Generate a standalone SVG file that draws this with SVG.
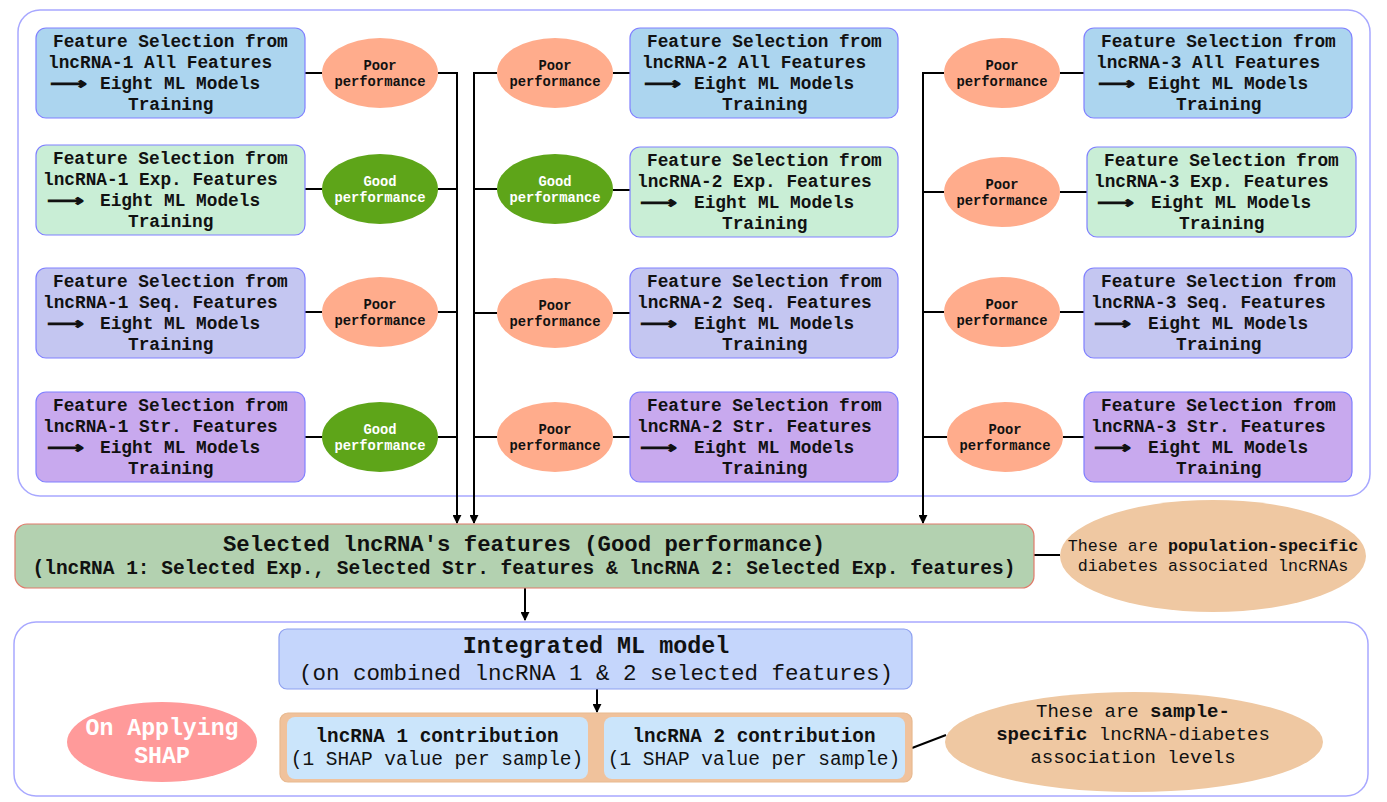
<svg xmlns="http://www.w3.org/2000/svg" width="1387" height="802" viewBox="0 0 1387 802">
<style>
.cont{fill:#fff;stroke:#a8a8ff;stroke-width:1.5}
.box{stroke:#8080ff;stroke-width:1.2}
.all{fill:#acd5ef}.exp{fill:#c9eed6}.seq{fill:#c4c6f1}.str{fill:#c8a9ee}
.bt{font-family:"Liberation Mono",monospace;font-weight:bold;font-size:17.8px;fill:#111}
.arr{font-family:"DejaVu Sans",sans-serif;font-weight:bold;font-size:16px;fill:#111;stroke:#111;stroke-width:0.9}
.poor{fill:#ffac8c}.good{fill:#5ea519}
.et{font-family:"Liberation Mono",monospace;font-weight:bold;font-size:13.8px;text-anchor:middle}
.etp{fill:#111}.etg{fill:#fff}
.ln{stroke:#000;stroke-width:2;fill:none}
.m{font-family:"Liberation Mono",monospace;fill:#111;text-anchor:middle}
.b{font-weight:bold}
</style>
<defs>
<marker id="ah" viewBox="0 0 10 10" refX="9" refY="5" markerWidth="4.5" markerHeight="4.5" orient="auto" markerUnits="strokeWidth">
<path d="M0,0 L10,5 L0,10 z" fill="#000"/>
</marker>
</defs>

<rect class="cont" x="18" y="10" width="1352" height="486" rx="22"/>
<rect class="cont" x="14" y="622" width="1354" height="174" rx="22"/>

<g id="connectors">
<line class="ln" x1="305" y1="73" x2="322" y2="73"/>
<line class="ln" x1="305" y1="189" x2="322" y2="189"/>
<line class="ln" x1="305" y1="312" x2="322" y2="312"/>
<line class="ln" x1="305" y1="437" x2="322" y2="437"/>
<path class="ln" d="M438,73 H457 M438,189 H457 M438,312 H457 M438,437 H457"/>
<line class="ln" x1="457" y1="72" x2="457" y2="523" marker-end="url(#ah)"/>
<path class="ln" d="M474,73 H497 M474,189 H497 M474,313 H497 M474,437 H497"/>
<line class="ln" x1="474" y1="72" x2="474" y2="523" marker-end="url(#ah)"/>
<path class="ln" d="M613,73 H630 M613,190 H630 M613,313 H630 M613,437 H630"/>
<path class="ln" d="M923,73 H944 M923,192 H944 M923,312 H944 M923,437 H947"/>
<line class="ln" x1="923" y1="72" x2="923" y2="523" marker-end="url(#ah)"/>
<path class="ln" d="M1060,73 H1084 M1060,192 H1087 M1060,312 H1084 M1063,437 H1084"/>
<line class="ln" x1="1034" y1="555" x2="1060" y2="555"/>
<line class="ln" x1="525" y1="588" x2="525" y2="620" marker-end="url(#ah)"/>
<line class="ln" x1="597" y1="689" x2="597" y2="712" marker-end="url(#ah)"/>
<line class="ln" x1="912" y1="748" x2="946" y2="735"/>
</g>

<g id="b1all"><rect class="box all" x="36" y="28" width="269" height="90" rx="10"/>
<text class="bt" x="53" y="47">Feature Selection from</text><text class="bt" x="48" y="68">lncRNA-1 All Features</text>
<text class="arr" x="50" y="89" textLength="37" lengthAdjust="spacingAndGlyphs">⟶</text><text class="bt" x="100" y="89">Eight ML Models</text><text class="bt" x="128" y="110">Training</text></g>
<g id="b1exp"><rect class="box exp" x="36" y="145" width="269" height="90" rx="10"/>
<text class="bt" x="53" y="164">Feature Selection from</text><text class="bt" x="43" y="185">lncRNA-1 Exp. Features</text>
<text class="arr" x="47" y="206" textLength="37" lengthAdjust="spacingAndGlyphs">⟶</text><text class="bt" x="100" y="206">Eight ML Models</text><text class="bt" x="128" y="227">Training</text></g>
<g id="b1seq"><rect class="box seq" x="36" y="268" width="269" height="90" rx="10"/>
<text class="bt" x="53" y="287">Feature Selection from</text><text class="bt" x="43" y="308">lncRNA-1 Seq. Features</text>
<text class="arr" x="47" y="329" textLength="37" lengthAdjust="spacingAndGlyphs">⟶</text><text class="bt" x="100" y="329">Eight ML Models</text><text class="bt" x="128" y="350">Training</text></g>
<g id="b1str"><rect class="box str" x="36" y="392" width="269" height="90" rx="10"/>
<text class="bt" x="53" y="411">Feature Selection from</text><text class="bt" x="43" y="432">lncRNA-1 Str. Features</text>
<text class="arr" x="47" y="453" textLength="37" lengthAdjust="spacingAndGlyphs">⟶</text><text class="bt" x="100" y="453">Eight ML Models</text><text class="bt" x="128" y="474">Training</text></g>

<g id="e1a"><ellipse class="poor" cx="380" cy="73" rx="58" ry="35"/><text class="et etp" x="380" y="70">Poor</text><text class="et etp" x="380" y="86">performance</text></g>
<g id="e1b"><ellipse class="good" cx="380" cy="189" rx="58" ry="35"/><text class="et etg" x="380" y="186">Good</text><text class="et etg" x="380" y="202">performance</text></g>
<g id="e1c"><ellipse class="poor" cx="380" cy="312" rx="58" ry="35"/><text class="et etp" x="380" y="309">Poor</text><text class="et etp" x="380" y="325">performance</text></g>
<g id="e1d"><ellipse class="good" cx="380" cy="437" rx="58" ry="35"/><text class="et etg" x="380" y="434">Good</text><text class="et etg" x="380" y="450">performance</text></g>

<g id="e2a"><ellipse class="poor" cx="555" cy="73" rx="58" ry="35"/><text class="et etp" x="555" y="70">Poor</text><text class="et etp" x="555" y="86">performance</text></g>
<g id="e2b"><ellipse class="good" cx="555" cy="189" rx="58" ry="35"/><text class="et etg" x="555" y="186">Good</text><text class="et etg" x="555" y="202">performance</text></g>
<g id="e2c"><ellipse class="poor" cx="555" cy="313" rx="58" ry="35"/><text class="et etp" x="555" y="310">Poor</text><text class="et etp" x="555" y="326">performance</text></g>
<g id="e2d"><ellipse class="poor" cx="555" cy="437" rx="58" ry="35"/><text class="et etp" x="555" y="434">Poor</text><text class="et etp" x="555" y="450">performance</text></g>

<g id="b2all"><rect class="box all" x="630" y="28" width="268" height="90" rx="10"/>
<text class="bt" x="647" y="47">Feature Selection from</text><text class="bt" x="642" y="68">lncRNA-2 All Features</text>
<text class="arr" x="644" y="89" textLength="37" lengthAdjust="spacingAndGlyphs">⟶</text><text class="bt" x="694" y="89">Eight ML Models</text><text class="bt" x="722" y="110">Training</text></g>
<g id="b2exp"><rect class="box exp" x="630" y="147" width="268" height="90" rx="10"/>
<text class="bt" x="647" y="166">Feature Selection from</text><text class="bt" x="637" y="187">lncRNA-2 Exp. Features</text>
<text class="arr" x="640" y="208" textLength="37" lengthAdjust="spacingAndGlyphs">⟶</text><text class="bt" x="694" y="208">Eight ML Models</text><text class="bt" x="722" y="229">Training</text></g>
<g id="b2seq"><rect class="box seq" x="630" y="268" width="268" height="90" rx="10"/>
<text class="bt" x="647" y="287">Feature Selection from</text><text class="bt" x="637" y="308">lncRNA-2 Seq. Features</text>
<text class="arr" x="640" y="329" textLength="37" lengthAdjust="spacingAndGlyphs">⟶</text><text class="bt" x="694" y="329">Eight ML Models</text><text class="bt" x="722" y="350">Training</text></g>
<g id="b2str"><rect class="box str" x="630" y="392" width="268" height="90" rx="10"/>
<text class="bt" x="647" y="411">Feature Selection from</text><text class="bt" x="637" y="432">lncRNA-2 Str. Features</text>
<text class="arr" x="640" y="453" textLength="37" lengthAdjust="spacingAndGlyphs">⟶</text><text class="bt" x="694" y="453">Eight ML Models</text><text class="bt" x="722" y="474">Training</text></g>

<g id="e3a"><ellipse class="poor" cx="1002" cy="73" rx="58" ry="35"/><text class="et etp" x="1002" y="70">Poor</text><text class="et etp" x="1002" y="86">performance</text></g>
<g id="e3b"><ellipse class="poor" cx="1002" cy="192" rx="58" ry="35"/><text class="et etp" x="1002" y="189">Poor</text><text class="et etp" x="1002" y="205">performance</text></g>
<g id="e3c"><ellipse class="poor" cx="1002" cy="312" rx="58" ry="35"/><text class="et etp" x="1002" y="309">Poor</text><text class="et etp" x="1002" y="325">performance</text></g>
<g id="e3d"><ellipse class="poor" cx="1005" cy="437" rx="58" ry="35"/><text class="et etp" x="1005" y="434">Poor</text><text class="et etp" x="1005" y="450">performance</text></g>

<g id="b3all"><rect class="box all" x="1084" y="28" width="268" height="90" rx="10"/>
<text class="bt" x="1101" y="47">Feature Selection from</text><text class="bt" x="1096" y="68">lncRNA-3 All Features</text>
<text class="arr" x="1098" y="89" textLength="37" lengthAdjust="spacingAndGlyphs">⟶</text><text class="bt" x="1148" y="89">Eight ML Models</text><text class="bt" x="1176" y="110">Training</text></g>
<g id="b3exp"><rect class="box exp" x="1087" y="147" width="269" height="90" rx="10"/>
<text class="bt" x="1104" y="166">Feature Selection from</text><text class="bt" x="1094" y="187">lncRNA-3 Exp. Features</text>
<text class="arr" x="1097" y="208" textLength="37" lengthAdjust="spacingAndGlyphs">⟶</text><text class="bt" x="1151" y="208">Eight ML Models</text><text class="bt" x="1179" y="229">Training</text></g>
<g id="b3seq"><rect class="box seq" x="1084" y="268" width="268" height="90" rx="10"/>
<text class="bt" x="1101" y="287">Feature Selection from</text><text class="bt" x="1091" y="308">lncRNA-3 Seq. Features</text>
<text class="arr" x="1094" y="329" textLength="37" lengthAdjust="spacingAndGlyphs">⟶</text><text class="bt" x="1148" y="329">Eight ML Models</text><text class="bt" x="1176" y="350">Training</text></g>
<g id="b3str"><rect class="box str" x="1084" y="392" width="268" height="90" rx="10"/>
<text class="bt" x="1101" y="411">Feature Selection from</text><text class="bt" x="1091" y="432">lncRNA-3 Str. Features</text>
<text class="arr" x="1094" y="453" textLength="37" lengthAdjust="spacingAndGlyphs">⟶</text><text class="bt" x="1148" y="453">Eight ML Models</text><text class="bt" x="1176" y="474">Training</text></g>

<g id="selected"><rect x="15" y="524" width="1019" height="64" rx="12" fill="#b3d1b0" stroke="#e07a6a" stroke-width="1.2"/>
<text class="m b" x="524" y="551" font-size="22.3px">Selected lncRNA's features (Good performance)</text>
<text class="m b" x="524" y="574" font-size="19.5px">(lncRNA 1: Selected Exp., Selected Str. features &amp; lncRNA 2: Selected Exp. features)</text></g>

<g id="popnote"><ellipse cx="1213" cy="556" rx="153" ry="56" fill="#efc8a2"/>
<text class="m" x="1213" y="551" font-size="16.7px">These are <tspan class="b">population-specific</tspan></text>
<text class="m" x="1213" y="571" font-size="16.7px">diabetes associated lncRNAs</text></g>

<g id="integrated"><rect x="279" y="629" width="633" height="60" rx="8" fill="#c5d6fc" stroke="#8ea0f0" stroke-width="1.2"/>
<text class="m b" x="596" y="653" font-size="23.4px">Integrated ML model</text>
<text class="m" x="596" y="680" font-size="22.5px">(on combined lncRNA 1 &amp; 2 selected features)</text></g>

<g id="contrib"><rect x="280" y="713" width="632" height="69" rx="8" fill="#f0c29c" stroke="#e8b990" stroke-width="1.2"/>
<rect x="287" y="717" width="301" height="62" rx="8" fill="#cbe5fb"/>
<rect x="604" y="717" width="301" height="62" rx="8" fill="#cbe5fb"/>
<text class="m b" x="437" y="742" font-size="19.3px">lncRNA 1 contribution</text>
<text class="m" x="437" y="765" font-size="19.5px">(1 SHAP value per sample)</text>
<text class="m b" x="754" y="742" font-size="19.3px">lncRNA 2 contribution</text>
<text class="m" x="754" y="765" font-size="19.5px">(1 SHAP value per sample)</text></g>

<g id="shap"><ellipse cx="162" cy="742" rx="95" ry="40" fill="#ff9a9a"/>
<text class="m b" x="162" y="735" font-size="23.2px" style="fill:#fff">On Applying</text>
<text class="m b" x="162" y="763" font-size="23.2px" style="fill:#fff">SHAP</text></g>

<g id="samplenote"><ellipse cx="1134" cy="742" rx="189" ry="50" fill="#efc8a2"/>
<text class="m" x="1133" y="717" font-size="19px">These are <tspan class="b">sample-</tspan></text>
<text class="m" x="1133" y="740" font-size="19px"><tspan class="b">specific</tspan> lncRNA-diabetes</text>
<text class="m" x="1133" y="763" font-size="19px">association levels</text></g>
</svg>
